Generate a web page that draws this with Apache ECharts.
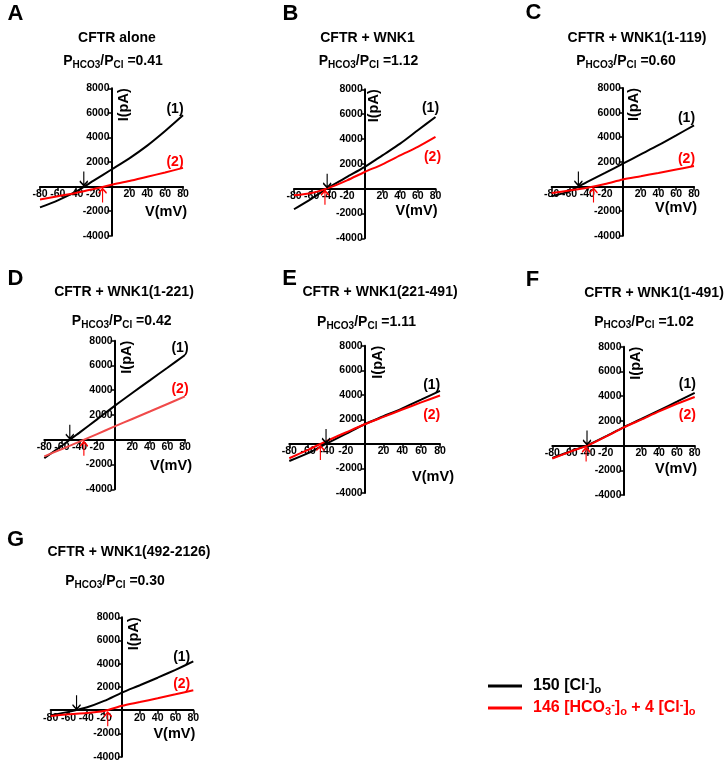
<!DOCTYPE html>
<html>
<head>
<meta charset="utf-8">
<script src="https://cdn.jsdelivr.net/npm/echarts@6/dist/echarts.min.js"></script>
<style>
html,body{margin:0;padding:0;background:#fff;}
#chart{width:726px;height:763px;}
</style>
</head>
<body>
<div id="chart"></div>
<script>
// ---------------- data ----------------
const voltages = [-80, -60, -40, -20, 0, 20, 40, 60, 80];
const xTicks = { min: -80, max: 80, interval: 20 };
const yTicks = { min: -4000, max: 8000, interval: 2000 };

const panelLetters = ['A', 'B', 'C', 'D', 'E', 'F', 'G'];
const panelTitles = ['CFTR alone', 'CFTR + WNK1', 'CFTR + WNK1(1-119)', 'CFTR + WNK1(1-221)',
                     'CFTR + WNK1(221-491)', 'CFTR + WNK1(1-491)', 'CFTR + WNK1(492-2126)'];
const ratios = ['0.41', '1.12', '0.60', '0.42', '1.11', '1.02', '0.30'];

// (1) 150 [Cl-]o currents, pA
const cl_A = [-1690, -1120, -420, 480, 1390, 2300, 3330, 4520, 5800];
const cl_B = [-1660, -800, 130, 940, 1745, 2680, 3620, 4700, 5770];
const cl_C = [-800, -380, 380, 1100, 1850, 2600, 3350, 4150, 4970];
const cl_D = [-1480, -480, 580, 1650, 2740, 3780, 4800, 5820, 6850];
const cl_E = [-1390, -750, 50, 820, 1600, 2250, 2900, 3600, 4320];
const cl_F = [-1000, -480, 40, 740, 1480, 2150, 2850, 3550, 4260];
const cl_G = [-430, -140, 230, 800, 1520, 2150, 2800, 3480, 4200];
// (2) 146 [HCO3-]o + 4 [Cl-]o currents, pA
const hco3_A = [-1060, -790, -520, -200, 140, 450, 800, 1150, 1520];
const hco3_B = [-540, -350, 80, 670, 1340, 1960, 2680, 3360, 4160];
const hco3_C = [-540, -330, -100, 200, 570, 830, 1100, 1380, 1660];
const hco3_D = [-1340, -750, -150, 460, 1075, 1680, 2280, 2890, 3500];
const hco3_E = [-1170, -480, 250, 930, 1600, 2200, 2800, 3380, 3940];
const hco3_F = [-1050, -500, 20, 720, 1450, 2100, 2760, 3380, 3930];
const hco3_G = [-490, -345, -230, -60, 380, 700, 1030, 1370, 1720];

// reversal potentials (arrows), mV
const erevCl = [-31, -42.5, -50, -51, -41, -41, -51];
const erevHCO3 = [-10, -45, -33, -35, -47, -42, -16];

const clSets = [cl_A, cl_B, cl_C, cl_D, cl_E, cl_F, cl_G];
const hco3Sets = [hco3_A, hco3_B, hco3_C, hco3_D, hco3_E, hco3_F, hco3_G];

const name1 = '150 [Cl-]o';
const name2 = '146 [HCO3-]o + 4 [Cl-]o';

// ---------------- layout ----------------
const FONT = '"Liberation Sans", Arial, sans-serif';
const layout = [
  { g: [40, 88.3, 143, 147.4], letter: [15.5, 13.5], title: [117, 38.5], ratio: [113, 61], ipa: 12, vmv: [4, 25], l1: [-8, -6.5], l2: [-8, -6] },
  { g: [294, 89.3, 141.5, 149], letter: [290.5, 13.5], title: [367.5, 38.5], ratio: [368.5, 61.5], ipa: 9, vmv: [2, 22], l1: [-5, -8.5], l2: [-3, 20] },
  { g: [551.7, 88, 142.3, 147.7], letter: [533.5, 13], title: [637, 38.5], ratio: [626, 61], ipa: 11, vmv: [3, 22], l1: [-7.5, -6.7], l2: [-7.5, -7.3] },
  { g: [44.3, 340.7, 140.7, 148.6], letter: [15.5, 278.5], title: [124, 291.7], ratio: [121.7, 321], ipa: 12, vmv: [7, 26.7], l1: [-5, -6.7], l2: [-5, -7.3] },
  { g: [289.3, 345.7, 150.7, 147.3], letter: [289.5, 279], title: [380, 291.7], ratio: [366.5, 322.3], ipa: 13, vmv: [14, 32.7], l1: [-8.3, -6], l2: [-8.3, 19.3] },
  { g: [552.3, 346.7, 142.4, 148.3], letter: [532.5, 279.7], title: [654, 292.7], ratio: [644, 321.7], ipa: 12, vmv: [2.3, 23], l1: [-7.4, -8.4], l2: [-7.4, 18.3] },
  { g: [50.7, 617.3, 142.6, 139.4], letter: [15.5, 539.7], title: [129, 552.3], ratio: [115, 581], ipa: 12, vmv: [2, 24], l1: [-11.6, -4], l2: [-11.6, -6] }
];
const redColors = ['#ff0000', '#ff0000', '#ff0000', '#f04a4a', '#ff0000', '#ff0000', '#ff0000'];

const arrowDown = 'path://M4,0 L4,14 M0,9.5 L4,14 L8,9.5';
const arrowUp = 'path://M4,14 L4,0 M0,4.5 L4,0 L8,4.5';

const grids = [], xAxes = [], yAxes = [], series = [], graphics = [];

function labelPoint(coord, text, off, color) {
  return {
    coord: coord, symbol: 'circle', symbolSize: 1,
    itemStyle: { color: 'rgba(0,0,0,0)' },
    label: { show: true, position: 'inside', formatter: text, offset: off, color: color,
             fontSize: 14, fontWeight: 'bold', fontFamily: FONT }
  };
}

layout.forEach((L, i) => {
  const [left, top, width, height] = L.g;
  grids.push({ left, top, width, height, containLabel: false, outerBoundsMode: 'none' });
  const labelStyle = { color: '#000', fontSize: 10.5, fontWeight: 'bold', fontFamily: FONT, margin: 2,
                       formatter: v => (v === 0 ? '' : String(v)), showMinLabel: true, showMaxLabel: true };
  // distance from grid edges to the zero lines
  const xZeroFromLeft = width * (0 - xTicks.min) / (xTicks.max - xTicks.min);
  const yZeroFromBottom = height * (0 - yTicks.min) / (yTicks.max - yTicks.min);
  xAxes.push({
    type: 'value', gridIndex: i, min: xTicks.min, max: xTicks.max, interval: xTicks.interval,
    position: 'bottom', offset: -yZeroFromBottom,
    axisLine: { show: true, onZero: false, lineStyle: { color: '#000', width: 2 } },
    axisTick: { show: true, length: 4, lineStyle: { color: '#000', width: 1.5 } },
    axisLabel: labelStyle,
    splitLine: { show: false }
  });
  yAxes.push({
    type: 'value', gridIndex: i, min: yTicks.min, max: yTicks.max, interval: yTicks.interval,
    position: 'left', offset: -xZeroFromLeft,
    axisLine: { show: true, onZero: false, lineStyle: { color: '#000', width: 2 } },
    axisTick: { show: true, length: 4, lineStyle: { color: '#000', width: 1.5 } },
    axisLabel: labelStyle,
    splitLine: { show: false }
  });
  const cl = clSets[i], hc = hco3Sets[i];
  const last = voltages.length - 1;
  series.push({
    type: 'line', name: name1, xAxisIndex: i, yAxisIndex: i, smooth: 0.25,
    showSymbol: false, symbol: 'none', silent: true,
    color: '#000', itemStyle: { color: '#000' }, lineStyle: { color: '#000', width: 2 },
    data: voltages.map((v, k) => [v, cl[k]]), z: 3,
    markPoint: {
      silent: true, animation: false,
      data: [
        { coord: [erevCl[i], 0], symbol: arrowDown, symbolSize: [8, 14], symbolOffset: [0, -8],
          itemStyle: { color: 'none', borderColor: '#000', borderWidth: 1.5 }, label: { show: false } },
        labelPoint([voltages[last], cl[last]], '(1)', L.l1, '#000')
      ]
    }
  });
  series.push({
    type: 'line', name: name2, xAxisIndex: i, yAxisIndex: i, smooth: 0.25,
    showSymbol: false, symbol: 'none', silent: true,
    color: '#ff0000', itemStyle: { color: '#ff0000' }, lineStyle: { color: redColors[i], width: 2 },
    data: voltages.map((v, k) => [v, hc[k]]), z: 4,
    markPoint: {
      silent: true, animation: false,
      data: [
        { coord: [erevHCO3[i], 0], symbol: arrowUp, symbolSize: [8, 14], symbolOffset: [0, 9],
          itemStyle: { color: 'none', borderColor: '#ff0000', borderWidth: 1.5 }, label: { show: false } },
        labelPoint([voltages[last], hc[last]], '(2)', L.l2, '#ff0000')
      ]
    }
  });

  // texts
  graphics.push({ type: 'text', x: L.letter[0], y: L.letter[1], silent: true,
    style: { text: panelLetters[i], font: 'bold 22px ' + FONT, fill: '#000', align: 'center', verticalAlign: 'middle' } });
  graphics.push({ type: 'text', x: L.title[0], y: L.title[1], silent: true,
    style: { text: panelTitles[i], font: 'bold 14px ' + FONT, fill: '#000', align: 'center', verticalAlign: 'middle' } });
  graphics.push({ type: 'text', x: L.ratio[0], y: L.ratio[1], silent: true,
    style: {
      text: '{m|P}{s|HCO3}{m|/P}{s|Cl}{m| =' + ratios[i] + '}',
      align: 'center', verticalAlign: 'middle',
      rich: {
        m: { fontSize: 14, fontWeight: 'bold', fontFamily: FONT, fill: '#000', color: '#000', lineHeight: 18, verticalAlign: 'middle' },
        s: { fontSize: 10, fontWeight: 'bold', fontFamily: FONT, fill: '#000', color: '#000', lineHeight: 18, verticalAlign: 'bottom', padding: [5, 0, 0, 0] }
      }
    } });
  const yAxisX = left + xZeroFromLeft;
  const zeroY = top + height - yZeroFromBottom;
  graphics.push({ type: 'text', x: yAxisX + L.ipa, y: top + 16.5, rotation: Math.PI / 2, silent: true,
    style: { text: 'I(pA)', font: 'bold 14.5px ' + FONT, fill: '#000', align: 'center', verticalAlign: 'middle' } });
  graphics.push({ type: 'text', x: left + width + L.vmv[0], y: zeroY + L.vmv[1], silent: true,
    style: { text: 'V(mV)', font: 'bold 14.5px ' + FONT, fill: '#000', align: 'right', verticalAlign: 'middle' } });
});

const legendRich = {
  kf: { fontSize: 16, fontWeight: 'bold', fontFamily: FONT, color: '#000', lineHeight: 18, padding: [0, 0, 0, 6] },
  k: { fontSize: 16, fontWeight: 'bold', fontFamily: FONT, color: '#000', lineHeight: 18 },
  ksup: { fontSize: 11, fontWeight: 'bold', fontFamily: FONT, color: '#000', lineHeight: 18, verticalAlign: 'top', padding: [0, 0, 6, 0] },
  ksub: { fontSize: 11, fontWeight: 'bold', fontFamily: FONT, color: '#000', lineHeight: 18, verticalAlign: 'bottom', padding: [6, 0, 0, 0] },
  rf: { fontSize: 16, fontWeight: 'bold', fontFamily: FONT, color: '#ff0000', lineHeight: 18, padding: [0, 0, 0, 6] },
  r: { fontSize: 16, fontWeight: 'bold', fontFamily: FONT, color: '#ff0000', lineHeight: 18 },
  rsup: { fontSize: 11, fontWeight: 'bold', fontFamily: FONT, color: '#ff0000', lineHeight: 18, verticalAlign: 'top', padding: [0, 0, 6, 0] },
  rsub: { fontSize: 11, fontWeight: 'bold', fontFamily: FONT, color: '#ff0000', lineHeight: 18, verticalAlign: 'bottom', padding: [6, 0, 0, 0] }
};

const chart = echarts.init(document.getElementById('chart'), null, { renderer: 'canvas' });
chart.setOption({
  animation: false,
  backgroundColor: '#ffffff',
  grid: grids,
  xAxis: xAxes,
  yAxis: yAxes,
  series: series,
  legend: {
    orient: 'vertical', left: 488, top: 677, itemWidth: 34, itemHeight: 3, itemGap: 4,
    icon: 'rect', selectedMode: false, padding: 0,
    data: [name1, name2],
    formatter: n => n === name1
      ? '{kf|150 [Cl}{ksup|-}{k|]}{ksub|o}'
      : '{rf|146 [HCO}{rsub|3}{rsup|-}{r|]}{rsub|o}{r| + 4 [Cl}{rsup|-}{r|]}{rsub|o}',
    textStyle: { rich: legendRich }
  },
  graphic: graphics
});
</script>
</body>
</html>
